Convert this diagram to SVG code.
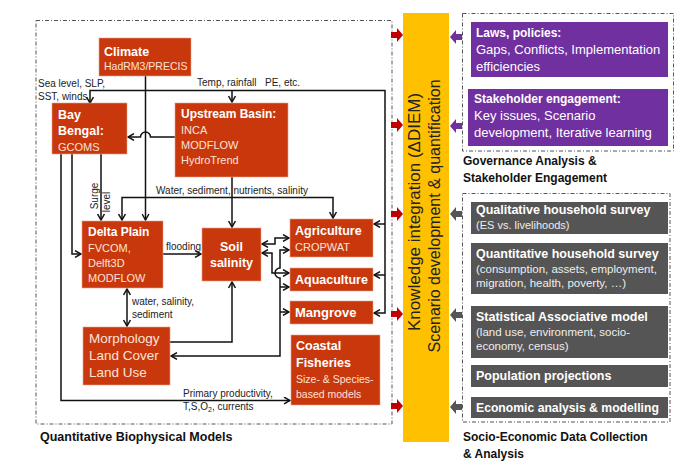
<svg xmlns="http://www.w3.org/2000/svg" width="681" height="461" viewBox="0 0 681 461">
<style>
text{font-family:"Liberation Sans",Arial,sans-serif}
.rb{fill:#C8380C;stroke:#E9A088;stroke-width:0.6}
.pb{fill:#7030A0}
.gb{fill:#555555}
.t{fill:#fff;font-weight:bold;font-size:12.5px}
.s{fill:#FBE3D9;font-size:11px}
.lbl{fill:#222;font-size:10px}
.w{fill:#fff;font-size:13px}
.wb{fill:#fff;font-weight:bold;font-size:12.5px}
.ws{fill:#EEEEEE;font-size:11.5px}
.hd{fill:#111;font-weight:bold;font-size:12.5px}
.frame{fill:none;stroke:#555;stroke-width:1;stroke-dasharray:4 2 1 2}
.c{fill:none;stroke:#111;stroke-width:1.5}
.e{marker-end:url(#ah)}
.b{marker-start:url(#ah);marker-end:url(#ah)}
</style>
<defs>
<marker id="ah" viewBox="0 0 8 8" refX="7" refY="4" markerWidth="8" markerHeight="8" markerUnits="userSpaceOnUse" orient="auto-start-reverse">
<path d="M1,0.6 L7,4 L1,7.4" fill="none" stroke="#111" stroke-width="1.5"/>
</marker>
<polygon id="ra" points="-12,-3 -6,-3 -6,-7 0,0 -6,7 -6,3 -12,3"/>
<polygon id="la" points="12,-3 6,-3 6,-7 0,0 6,7 6,3 12,3"/>
</defs>
<rect width="681" height="461" fill="#fff"/>

<!-- frames -->
<rect class="frame" x="36" y="20.5" width="356" height="403.5"/>
<rect class="frame" x="462.5" y="13.5" width="211" height="137.5"/>
<rect class="frame" x="462.5" y="193.5" width="207.5" height="228.5"/>
<text class="hd" x="40" y="441">Quantitative Biophysical Models</text>
<text class="hd" x="463" y="165" style="font-size:12px">Governance Analysis &amp;</text>
<text class="hd" x="463" y="182" style="font-size:12px">Stakeholder Engagement</text>
<text class="hd" x="463" y="441" style="font-size:12px">Socio-Economic Data Collection</text>
<text class="hd" x="463" y="458" style="font-size:12px">&amp; Analysis</text>

<!-- knowledge integration bar -->
<g id="knowledge">
<rect x="403" y="13" width="46" height="429" fill="#FFC000"/>
<text transform="translate(420,212) rotate(-90)" text-anchor="middle" style="font-size:17px" fill="#222">Knowledge integration (ΔDIEM)</text>
<text transform="translate(440,216) rotate(-90)" text-anchor="middle" style="font-size:16px" fill="#222">Scenario development &amp; quantification</text>
</g>

<g id="block-arrows">
<use href="#ra" x="403" y="35" fill="#C00000"/>
<use href="#ra" x="403" y="125" fill="#C00000"/>
<use href="#ra" x="403" y="214" fill="#C00000"/>
<use href="#ra" x="403" y="314" fill="#C00000"/>
<use href="#ra" x="403" y="406" fill="#C00000"/>
<use href="#la" x="450" y="37" fill="#7030A0"/>
<use href="#la" x="450" y="126" fill="#7030A0"/>
<use href="#la" x="450" y="214" fill="#555"/>
<use href="#la" x="450" y="315" fill="#555"/>
<use href="#la" x="450" y="407" fill="#555"/>
</g>

<!-- connectors -->
<g id="connectors">
<path class="c e" d="M145.5,76 V220"/>
<path class="c b" d="M90,103 V90.5 H385 V313 H374"/>
<path class="c e" d="M232,90.5 V102"/>
<path class="c e" d="M385,224 H374"/>
<path class="c e" d="M385,275 H374"/>
<path class="c e" d="M175,137 H150.5 A5,5 0 0 0 140.5,137 H128"/>
<path class="c e" d="M232,177 V227"/>
<path class="c b" d="M122,220 V197.5 H333 V218"/>
<path class="c e" d="M101,154 V220"/>
<path class="c e" d="M72,154 V254 H81"/>
<path class="c e" d="M61,154 V400.5 H290"/>
<path class="c e" d="M163,254 H201"/>
<path class="c b" d="M127,289 V326"/>
<path class="c e" d="M170,342 H232 V282"/>
<path class="c b" d="M262,244 H275 V238 H289"/>
<path class="c b" d="M262,253 H272 V273 H289"/>
<path class="c b" d="M289,250 H280 V268 A5,5 0 0 0 280,278 V356 H171"/>
<path class="c e" d="M280,287 H289"/>
<path class="c e" d="M280,312 H289"/>
<text class="lbl" x="38" y="87">Sea level, SLP,</text>
<text class="lbl" x="38" y="100">SST, winds</text>
<text class="lbl" x="197" y="86">Temp, rainfall</text>
<text class="lbl" x="265" y="86">PE, etc.</text>
<text class="lbl" x="156" y="194">Water, sediment, nutrients, salinity</text>
<text class="lbl" transform="translate(98,196) rotate(-90)" text-anchor="middle">Surge</text>
<text class="lbl" transform="translate(110,202) rotate(-90)" text-anchor="middle">level</text>
<text class="lbl" x="166" y="250">flooding</text>
<text class="lbl" x="132" y="305">water, salinity,</text>
<text class="lbl" x="132" y="318">sediment</text>
<text class="lbl" x="183" y="397">Primary productivity,</text>
<text class="lbl" x="183" y="410">T,S,O<tspan style="font-size:7px" dy="2">2</tspan><tspan dy="-2">, currents</tspan></text>
</g>

<!-- biophysical nodes -->
<g id="climate">
<rect class="rb" x="99" y="38" width="92" height="38"/>
<text class="t" x="104" y="56" style="font-size:12.5px">Climate</text>
<text class="s" x="104" y="70" style="font-size:10.5px">HadRM3/PRECIS</text>
</g>
<g id="bay-bengal">
<rect class="rb" x="52" y="103" width="75" height="51"/>
<text class="t" x="58" y="119">Bay</text>
<text class="t" x="58" y="135">Bengal:</text>
<text class="s" x="58" y="151">GCOMS</text>
</g>
<g id="upstream-basin">
<rect class="rb" x="175" y="103" width="113" height="74"/>
<text class="t" x="181" y="118" style="font-size:12px">Upstream Basin:</text>
<text class="s" x="181" y="134">INCA</text>
<text class="s" x="181" y="149">MODFLOW</text>
<text class="s" x="181" y="164">HydroTrend</text>
</g>
<g id="delta-plain">
<rect class="rb" x="82" y="221" width="81" height="67"/>
<text class="t" x="88" y="236" style="font-size:12px">Delta Plain</text>
<text class="s" x="88" y="252">FVCOM,</text>
<text class="s" x="88" y="267">Delft3D</text>
<text class="s" x="88" y="282">MODFLOW</text>
</g>
<g id="soil-salinity">
<rect class="rb" x="202" y="228" width="59" height="53"/>
<text class="t" x="231.5" y="251" text-anchor="middle">Soil</text>
<text class="t" x="231.5" y="267" text-anchor="middle">salinity</text>
</g>
<g id="agriculture">
<rect class="rb" x="290" y="219" width="83" height="38"/>
<text class="t" x="295" y="235">Agriculture</text>
<text class="s" x="295" y="251">CROPWAT</text>
</g>
<g id="aquaculture">
<rect class="rb" x="290" y="268" width="83" height="23"/>
<text class="t" x="295" y="284">Aquaculture</text>
</g>
<g id="mangrove">
<rect class="rb" x="290" y="301" width="83" height="23"/>
<text class="t" x="295" y="317" style="font-size:13px">Mangrove</text>
</g>
<g id="coastal-fisheries">
<rect class="rb" x="291" y="335" width="89" height="70"/>
<text class="t" x="296" y="350" style="font-size:12.5px">Coastal</text>
<text class="t" x="296" y="367" style="font-size:12.5px">Fisheries</text>
<text class="s" x="296" y="383" style="font-size:10.5px">Size- &amp; Species-</text>
<text class="s" x="296" y="398" style="font-size:10.5px">based models</text>
</g>
<g id="morphology">
<rect class="rb" x="83" y="327" width="87" height="58"/>
<text class="s" x="89" y="343" style="font-size:13.5px">Morphology</text>
<text class="s" x="89" y="360" style="font-size:13.5px">Land Cover</text>
<text class="s" x="89" y="377" style="font-size:13.5px">Land Use</text>
</g>

<!-- governance -->
<g id="laws-policies">
<rect class="pb" x="471" y="22" width="197" height="55"/>
<text class="wb" x="476" y="37" style="font-size:12px">Laws, policies:</text>
<text class="w" x="476" y="54">Gaps, Conflicts, Implementation</text>
<text class="w" x="476" y="71">efficiencies</text>
</g>
<g id="stakeholder-engagement">
<rect class="pb" x="468" y="89" width="200" height="57"/>
<text class="wb" x="474" y="103" style="font-size:12px">Stakeholder engagement:</text>
<text class="w" x="474" y="120">Key issues, Scenario</text>
<text class="w" x="474" y="137">development, Iterative learning</text>
</g>

<!-- socio-economic -->
<g id="qualitative-survey">
<rect class="gb" x="471" y="202" width="197" height="32"/>
<text class="wb" x="476" y="214">Qualitative household survey</text>
<text class="ws" x="476" y="229" style="font-size:11px">(ES vs. livelihoods)</text>
</g>
<g id="quantitative-survey">
<rect class="gb" x="471" y="243" width="197" height="51"/>
<text class="wb" x="476" y="258">Quantitative household survey</text>
<text class="ws" x="476" y="273">(consumption, assets, employment,</text>
<text class="ws" x="476" y="287">migration, health, poverty, …)</text>
</g>
<g id="statistical-model">
<rect class="gb" x="471" y="306" width="197" height="52"/>
<text class="wb" x="476" y="321">Statistical Associative model</text>
<text class="ws" x="476" y="336"> (land use, environment, socio-</text>
<text class="ws" x="476" y="350">economy, census)</text>
</g>
<g id="population-projections">
<rect class="gb" x="471" y="365" width="197" height="22"/>
<text class="wb" x="476" y="380">Population projections</text>
</g>
<g id="economic-analysis">
<rect class="gb" x="471" y="397" width="197" height="21"/>
<text class="wb" x="476" y="412" style="font-size:12.2px">Economic analysis &amp; modelling</text>
</g>
</svg>
